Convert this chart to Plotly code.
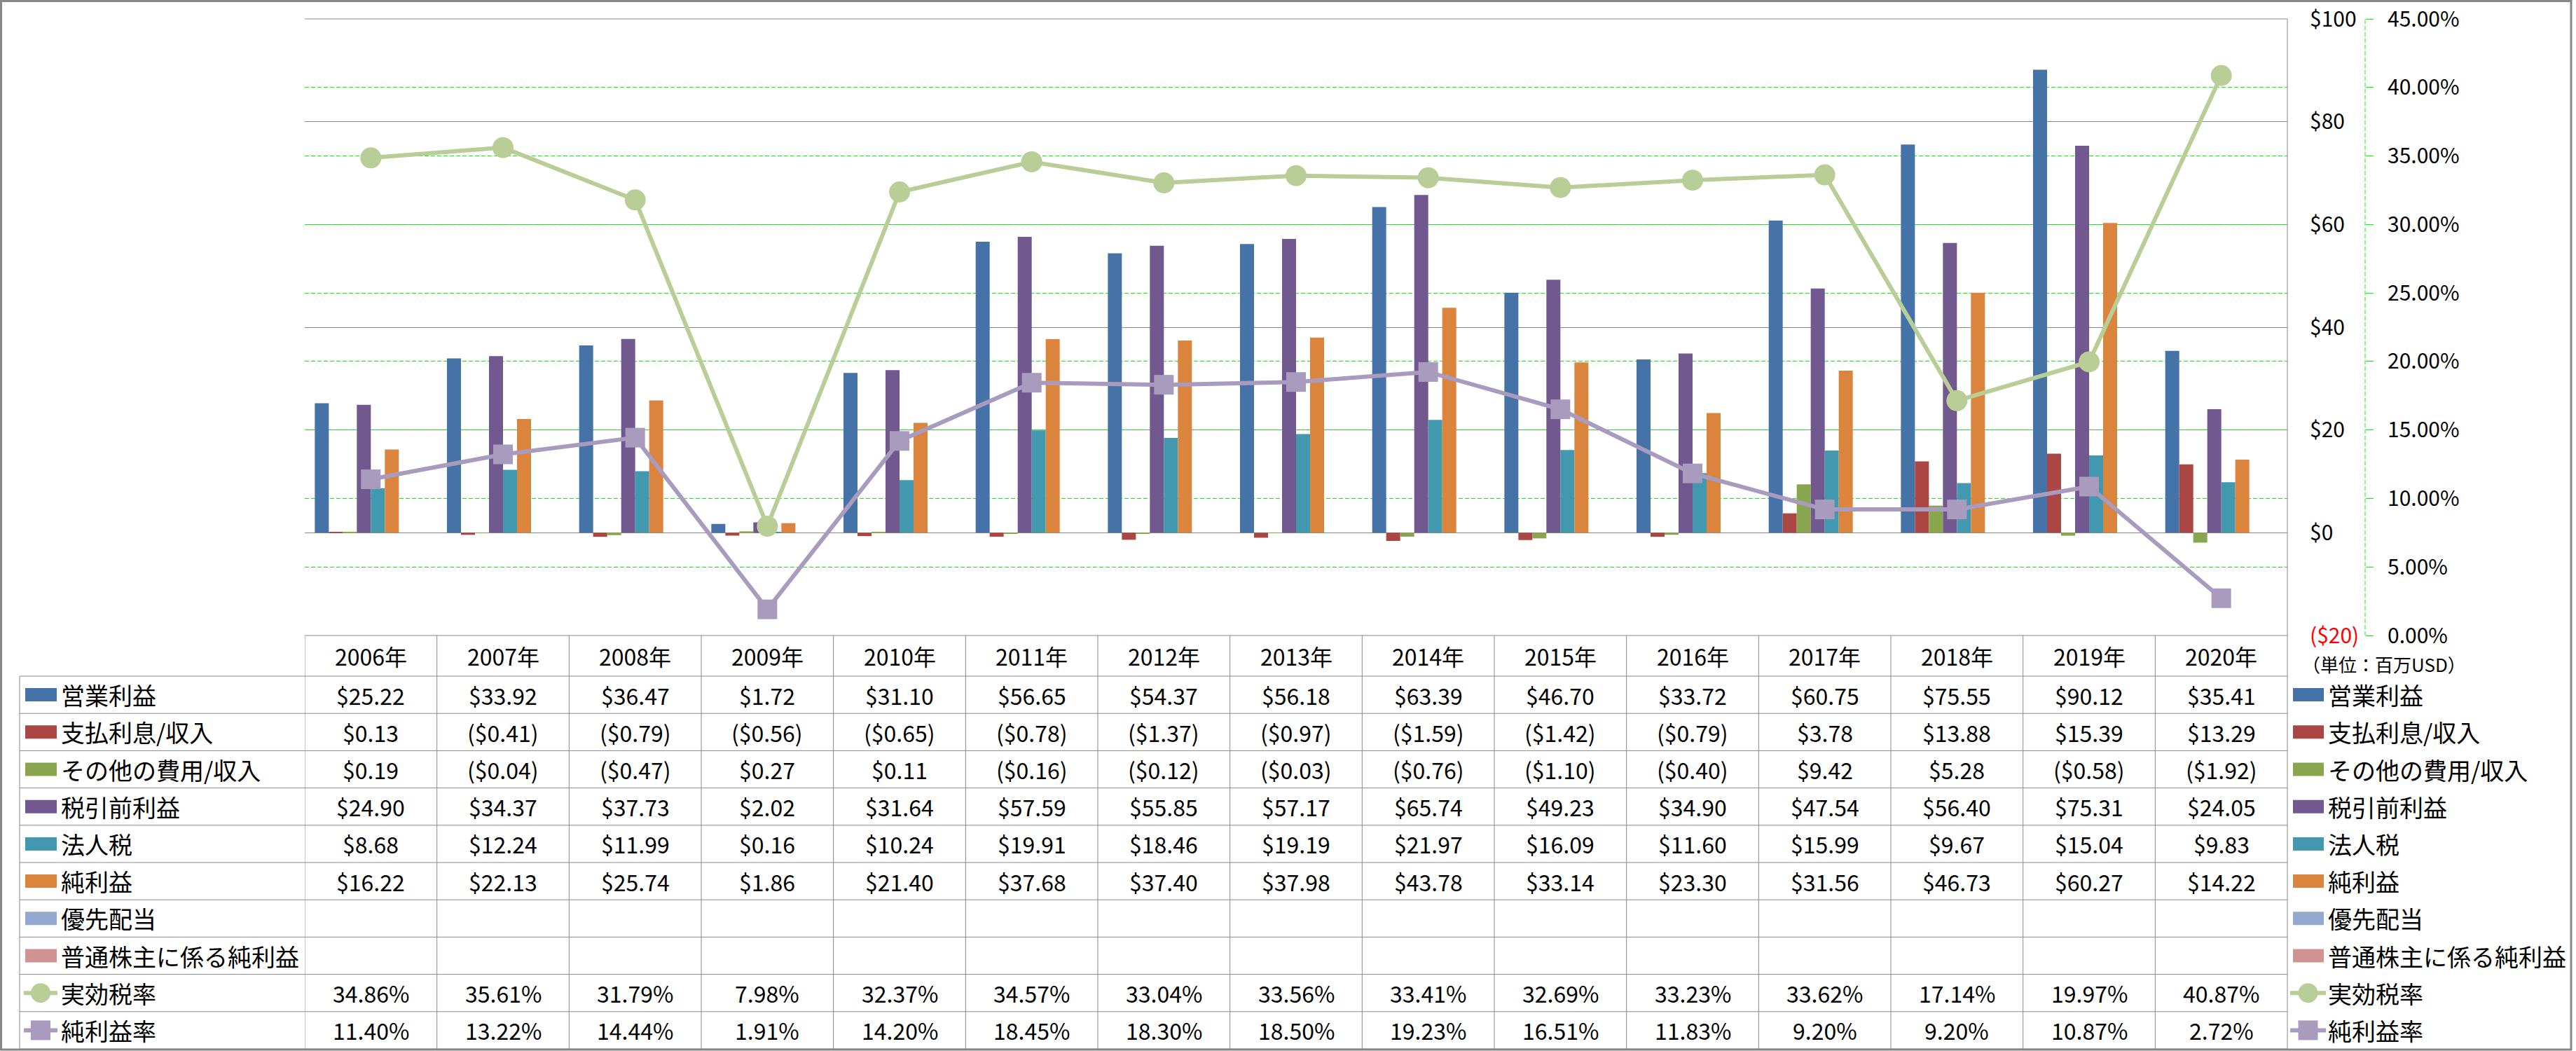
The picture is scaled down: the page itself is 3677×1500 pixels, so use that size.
import plotly.graph_objects as go

# ---------------- data ----------------
years = ["2006年", "2007年", "2008年", "2009年", "2010年", "2011年", "2012年", "2013年",
         "2014年", "2015年", "2016年", "2017年", "2018年", "2019年", "2020年"]
op_income = [25.22, 33.92, 36.47, 1.72, 31.10, 56.65, 54.37, 56.18, 63.39, 46.70, 33.72, 60.75, 75.55, 90.12, 35.41]
interest = [0.13, -0.41, -0.79, -0.56, -0.65, -0.78, -1.37, -0.97, -1.59, -1.42, -0.79, 3.78, 13.88, 15.39, 13.29]
other_exp = [0.19, -0.04, -0.47, 0.27, 0.11, -0.16, -0.12, -0.03, -0.76, -1.10, -0.40, 9.42, 5.28, -0.58, -1.92]
pretax = [24.90, 34.37, 37.73, 2.02, 31.64, 57.59, 55.85, 57.17, 65.74, 49.23, 34.90, 47.54, 56.40, 75.31, 24.05]
income_tax = [8.68, 12.24, 11.99, 0.16, 10.24, 19.91, 18.46, 19.19, 21.97, 16.09, 11.60, 15.99, 9.67, 15.04, 9.83]
net_income = [16.22, 22.13, 25.74, 1.86, 21.40, 37.68, 37.40, 37.98, 43.78, 33.14, 23.30, 31.56, 46.73, 60.27, 14.22]
pref_div = [None] * 15
common_ni = [None] * 15
eff_tax_rate = [34.86, 35.61, 31.79, 7.98, 32.37, 34.57, 33.04, 33.56, 33.41, 32.69, 33.23, 33.62, 17.14, 19.97, 40.87]
net_margin = [11.40, 13.22, 14.44, 1.91, 14.20, 18.45, 18.30, 18.50, 19.23, 16.51, 11.83, 9.20, 9.20, 10.87, 2.72]

y_tickvals = [-20, 0, 20, 40, 60, 80, 100]
y_ticktext = ["<span style='color:#FF0000'>($20)</span>", "$0", "$20", "$40", "$60", "$80", "$100"]
y2_tickvals = [0, 5, 10, 15, 20, 25, 30, 35, 40, 45]
y2_ticktext = ["0.00%", "5.00%", "10.00%", "15.00%", "20.00%", "25.00%", "30.00%", "35.00%", "40.00%", "45.00%"]
unit_label = "（単位：百万USD）"

bar_series = [
    ("営業利益", op_income, "#4572A7"),
    ("支払利息/収入", interest, "#AA4643"),
    ("その他の費用/収入", other_exp, "#89A54E"),
    ("税引前利益", pretax, "#71588F"),
    ("法人税", income_tax, "#4198AF"),
    ("純利益", net_income, "#DB843D"),
    ("優先配当", pref_div, "#93A9CF"),
    ("普通株主に係る純利益", common_ni, "#D19392"),
]
line_series = [
    ("実効税率", eff_tax_rate, "#B9CD96", "circle", 30),
    ("純利益率", net_margin, "#A89BBE", "square", 28),
]

# ---------------- geometry (pixels) ----------------
W, H = 3677, 1500
PL, PR, PT, PB = 435, 3265, 27, 907
HEADER_BOTTOM = 965
ROW_H = (1497 - HEADER_BOTTOM) / 10
FONT = "Noto Sans CJK JP"
GRID = "#898989"
VAL_SIZE = 32
LABEL_SIZE = 34
TICK_SIZE = 30


def xp(px):
    return (px - PL) / (PR - PL)


def yp(py):
    return (PB - py) / (PB - PT)


def money(v):
    if v is None:
        return ""
    return f"(${abs(v):.2f})" if v < 0 else f"${v:.2f}"


def pct(v):
    return "" if v is None else f"{v:.2f}%"


fig = go.Figure()
for name, vals, col in bar_series:
    fig.add_trace(go.Bar(x=years, y=vals, name=name, marker=dict(color=col, line=dict(width=0)),
                         showlegend=False))
for name, vals, col, sym, sz in line_series:
    fig.add_trace(go.Scatter(x=years, y=vals, name=name, yaxis="y2", mode="lines+markers",
                             line=dict(color=col, width=6),
                             marker=dict(symbol=sym, size=sz, color=col, line=dict(width=0)),
                             showlegend=False))

shapes = []
annotations = []

# top gray line of plot area
shapes.append(dict(type="line", xref="paper", yref="paper", x0=0, x1=1, y0=1, y1=1,
                   line=dict(color=GRID, width=1)))
# dashed secondary axis line
shapes.append(dict(type="line", xref="paper", yref="paper", x0=xp(3376), x1=xp(3376), y0=0, y1=1,
                   line=dict(color="#00FF00", width=1, dash="6px,3px")))
# plot right border extended through table
shapes.append(dict(type="line", xref="paper", yref="paper", x0=1, x1=1, y0=1, y1=yp(1497),
                   line=dict(color=GRID, width=1)))
# table header top
shapes.append(dict(type="line", xref="paper", yref="paper", x0=0, x1=1, y0=0, y1=0,
                   line=dict(color=GRID, width=1)))
# row lines
for k in range(11):
    yy = yp(HEADER_BOTTOM + k * ROW_H)
    shapes.append(dict(type="line", xref="paper", yref="paper", x0=xp(28), x1=1, y0=yy, y1=yy,
                       line=dict(color=GRID, width=1)))
# label column left edge
shapes.append(dict(type="line", xref="paper", yref="paper", x0=xp(28), x1=xp(28),
                   y0=yp(HEADER_BOTTOM), y1=yp(1497), line=dict(color=GRID, width=1)))
# column separators
for k in range(15):
    shapes.append(dict(type="line", xref="x", yref="paper", x0=k - 0.5, x1=k - 0.5,
                       y0=0, y1=yp(1497), line=dict(color=GRID, width=1)))
# outer border
shapes.append(dict(type="rect", xref="paper", yref="paper", x0=xp(1.5), x1=xp(3670), y0=yp(1.5), y1=yp(1498),
                   line=dict(color="#878787", width=3), fillcolor="rgba(0,0,0,0)"))

# header
for yr in years:
    annotations.append(dict(x=yr, xref="x", y=yp((PB + HEADER_BOTTOM) / 2), yref="paper", text=yr,
                            showarrow=False, xanchor="center", yanchor="middle", font=dict(size=VAL_SIZE)))

rows = [(n, v, c, "bar", None) for n, v, c in bar_series] + \
       [(n, v, c, "line", s) for n, v, c, s, _ in line_series]


def legend_symbol(x0, x1, cy, col, kind, sym):
    if kind == "bar":
        shapes.append(dict(type="rect", xref="paper", yref="paper", x0=xp(x0), x1=xp(x1),
                           y0=yp(cy - 9.5), y1=yp(cy + 9.5), fillcolor=col, line=dict(width=0)))
    else:
        mx = (x0 + x1) / 2
        shapes.append(dict(type="line", xref="paper", yref="paper", x0=xp(x0), x1=xp(x1),
                           y0=yp(cy), y1=yp(cy), line=dict(color=col, width=6)))
        shapes.append(dict(type="circle" if sym == "circle" else "rect", xref="paper", yref="paper",
                           x0=xp(mx - 14), x1=xp(mx + 14), y0=yp(cy - 14), y1=yp(cy + 14),
                           fillcolor=col, line=dict(width=0)))


for r, (name, vals, col, kind, sym) in enumerate(rows):
    cy = HEADER_BOTTOM + (r + 0.5) * ROW_H
    fmt = money if kind == "bar" else pct
    for yr, v in zip(years, vals):
        annotations.append(dict(x=yr, xref="x", y=yp(cy), yref="paper", text=fmt(v), showarrow=False,
                                xanchor="center", yanchor="middle", font=dict(size=VAL_SIZE)))
    # left label column
    if kind == "line":
        legend_symbol(34, 82, cy, col, kind, sym)
    else:
        legend_symbol(36, 81, cy, col, kind, sym)
    annotations.append(dict(x=xp(85), xref="paper", y=yp(cy), yref="paper", text=name, showarrow=False,
                            xanchor="left", yanchor="middle", font=dict(size=LABEL_SIZE)))
    # right legend
    if kind == "line":
        legend_symbol(3269, 3320, cy, col, kind, sym)
    else:
        legend_symbol(3273, 3317, cy, col, kind, sym)
    annotations.append(dict(x=xp(3321), xref="paper", y=yp(cy), yref="paper", text=name, showarrow=False,
                            xanchor="left", yanchor="middle", font=dict(size=LABEL_SIZE)))

annotations.append(dict(x=xp(3284), xref="paper", y=yp(947), yref="paper", text=unit_label, showarrow=False,
                        xanchor="left", yanchor="middle", font=dict(size=26)))

fig.update_layout(
    width=W, height=H,
    margin=dict(l=PL, r=W - PR, t=PT, b=H - PB, pad=0),
    paper_bgcolor="white", plot_bgcolor="white",
    barmode="group", bargap=0.152, bargroupgap=0,
    font=dict(family=FONT, size=32, color="black"),
    showlegend=False,
    xaxis=dict(type="category", range=[-0.5, 14.5], showticklabels=False, showgrid=False,
               zeroline=False, showline=False, ticks="", automargin=False),
    yaxis=dict(range=[-20, 100], tickvals=y_tickvals, ticktext=y_ticktext, side="right",
               showgrid=True, gridcolor=GRID, gridwidth=1, zeroline=False, showline=False,
               ticks="", ticklabelstandoff=31, automargin=False, tickfont=dict(size=TICK_SIZE),
               ticklabeloverflow="allow"),
    yaxis2=dict(overlaying="y", side="right", anchor="free", position=1, shift=111,
                range=[0, 45], tickvals=y2_tickvals, ticktext=y2_ticktext,
                showgrid=True, gridcolor="#00FF00", griddash="6px,3px", gridwidth=1,
                zeroline=False, showline=False, ticks="outside", ticklen=11, tickcolor="#00FF00",
                tickwidth=1, ticklabelstandoff=14, automargin=False, tickfont=dict(size=TICK_SIZE),
                ticklabeloverflow="allow"),
    shapes=shapes,
    annotations=annotations,
)

fig.write_html("out.html", config={"displayModeBar": False},
               post_script="document.body.style.margin='0';document.body.style.overflow='hidden';")
